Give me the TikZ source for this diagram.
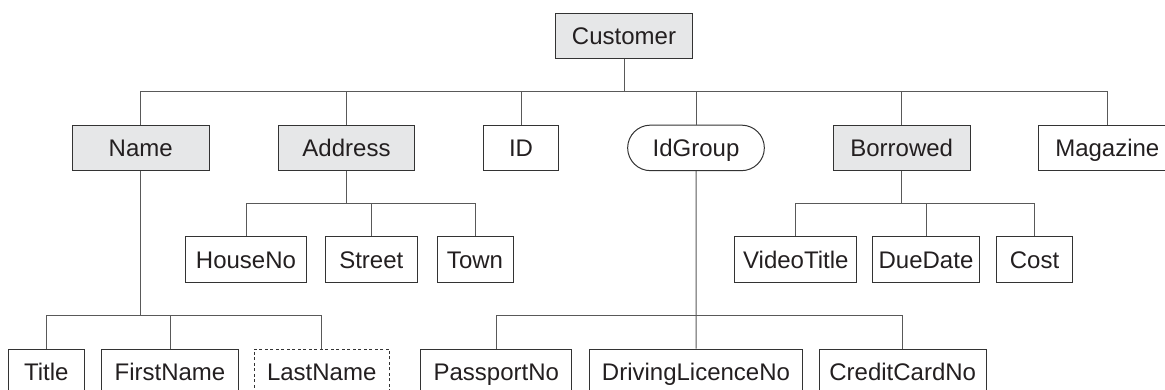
\documentclass[tikz,border=0pt]{standalone}
\usepackage{fontspec}
\setmainfont{Liberation Sans}
\usepackage{xcolor}
\usepackage{tikz}
\usetikzlibrary{positioning,shapes.misc}
\definecolor{boxfill}{HTML}{E6E7E8}
\definecolor{inkgray}{HTML}{231F20}
\tikzset{
    item/.style={draw=black!80,line width=1pt,rectangle,minimum height=45.5pt,
        inner xsep=0pt,text height=17pt,text depth=0pt,text=inkgray,
        font=\fontsize{24}{28}\selectfont},
    group/.style={item,fill=boxfill},
    choice/.style={item,rounded rectangle},
    optional/.style={item,dash pattern=on 3pt off 2.5pt},
    link/.style={draw=black!65,line width=1pt}
}

\begin{document}
\begin{tikzpicture}[x=1pt,y=-1pt]
    \useasboundingbox (0,0) rectangle (1165,390);
    \clip (0,0) rectangle (1165,390);
    % top
    \node[group,minimum width=136.6pt] (cust) at (624,36.2) {Customer};
    % first level
    \node[group,minimum width=136.7pt] (name) at (140.7,147.9) {Name};
    \node[group,minimum width=136pt] (addr) at (346.5,147.9) {Address};
    \node[item,minimum width=75pt] (id) at (521,147.9) {ID};
    \node[choice,minimum width=136.7pt] (idg) at (696,147.9) {IdGroup};
    \node[group,minimum width=136.7pt] (borr) at (901.7,147.9) {Borrowed};
    \node[item,minimum width=136.7pt] (mag) at (1107.3,147.9) {Magazine};
    % second level
    \node[item,minimum width=121.4pt] (house) at (246,259.7) {HouseNo};
    \node[item,minimum width=91.4pt] (street) at (371.3,259.7) {Street};
    \node[item,minimum width=76pt] (town) at (475,259.7) {Town};
    \node[item,minimum width=121.7pt] (video) at (795.8,259.7) {VideoTitle};
    \node[item,minimum width=106.6pt] (due) at (926,259.7) {DueDate};
    \node[item,minimum width=76.4pt] (cost) at (1034.5,259.7) {Cost};
    % third level
    \node[item,minimum width=76pt] (title) at (46.3,371.8) {Title};
    \node[item,minimum width=136.6pt] (first) at (170,371.8) {FirstName};
    \node[optional,minimum width=135.3pt] (last) at (321.7,371.8) {LastName};
    \node[item,minimum width=151.3pt] (pass) at (496.3,371.8) {PassportNo};
    \node[item,minimum width=212.4pt] (drive) at (696,371.8) {DrivingLicenceNo};
    \node[item,minimum width=166.7pt] (card) at (902.7,371.8) {CreditCardNo};
    % bus points
    \coordinate (bcust) at (624,91.7);
    \coordinate (bname) at (140.7,315.7);
    \coordinate (baddr) at (346.5,204);
    \coordinate (bidg) at (696,315.7);
    \coordinate (bborr) at (901.7,204);
    % connectors
    \draw[link] (cust) -- (bcust);
    \draw[link] (bcust) -| (name.north);
    \draw[link] (bcust) -| (addr.north);
    \draw[link] (bcust) -| (id.north);
    \draw[link] (bcust) -| (idg.north);
    \draw[link] (bcust) -| (borr.north);
    \draw[link] (bcust) -| (mag.north);
    \draw[link] (addr) -- (baddr);
    \draw[link] (baddr) -| (house.north);
    \draw[link] (baddr) -| (street.north);
    \draw[link] (baddr) -| (town.north);
    \draw[link] (borr) -- (bborr);
    \draw[link] (bborr) -| (video.north);
    \draw[link] (bborr) -| (due.north);
    \draw[link] (bborr) -| (cost.north);
    \draw[link] (name) -- (bname);
    \draw[link] (bname) -| (title.north);
    \draw[link] (bname) -| (first.north);
    \draw[link] (bname) -| (last.north);
    \draw[link] (idg) -- (drive);
    \draw[link] (bidg) -| (pass.north);
    \draw[link] (bidg) -| (card.north);
\end{tikzpicture}
\end{document}
